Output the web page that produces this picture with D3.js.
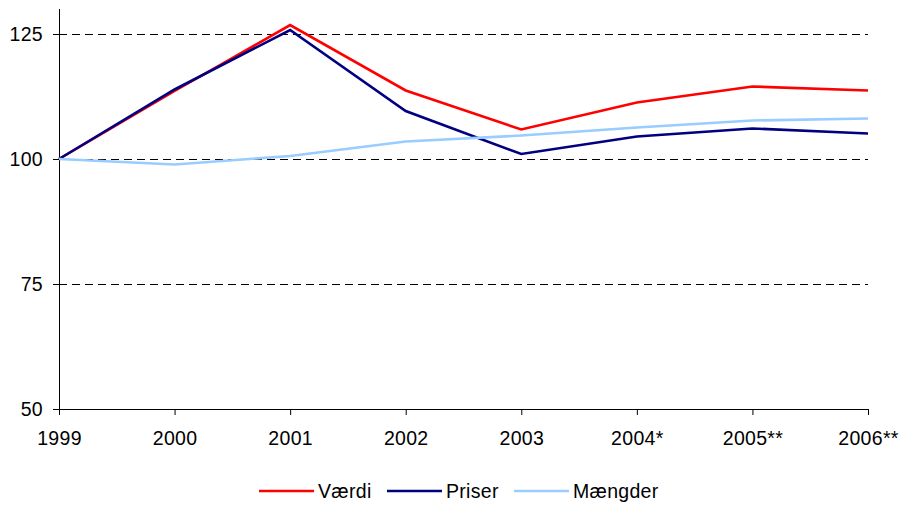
<!DOCTYPE html>
<html>
<head>
<meta charset="utf-8">
<script src="https://cdn.jsdelivr.net/npm/d3@7"></script>
<style>
  body { margin: 0; background: #fff; }
  svg { display: block; font-family: "Liberation Sans", Arial, sans-serif; }
  svg text { letter-spacing: 0.3px; }
</style>
</head>
<body>
<div id="chart"></div>
<script>
// Data
const years = ["1999", "2000", "2001", "2002", "2003", "2004*", "2005**", "2006**"];
const vaerdi = [100, 113.6, 126.8, 113.7, 105.9, 111.3, 114.5, 113.7];
const priser = [100, 113.9, 125.8, 109.6, 101.0, 104.5, 106.1, 105.1];
const maengder = [100, 98.9, 100.6, 103.5, 104.7, 106.3, 107.7, 108.1];
const yTicks = [50, 75, 100, 125];

const series = [
  { name: "Værdi", values: vaerdi, color: "#ff0000" },
  { name: "Priser", values: priser, color: "#000080" },
  { name: "Mængder", values: maengder, color: "#99ccff" }
];

const width = 899, height = 505;
const margin = { top: 9, right: 31, bottom: 96, left: 59 };
const fontSize = 19.5;

const x = d3.scalePoint()
  .domain(years)
  .range([margin.left, width - margin.right]);

const y = d3.scaleLinear()
  .domain([50, 130])
  .range([height - margin.bottom, margin.top]);

const svg = d3.select("#chart").append("svg")
  .attr("width", width)
  .attr("height", height);

// gridlines (dashed)
svg.append("g")
  .selectAll("line")
  .data(yTicks.filter(d => d > 50))
  .join("line")
  .attr("x1", margin.left)
  .attr("x2", width - margin.right)
  .attr("y1", d => y(d) + 0.5)
  .attr("y2", d => y(d) + 0.5)
  .attr("stroke", "#000")
  .attr("stroke-width", 1)
  .attr("stroke-dasharray", "8,5");

// y axis
const yAxis = svg.append("g")
  .attr("transform", `translate(${margin.left},0)`)
  .call(d3.axisLeft(y).tickValues(yTicks).tickSize(6).tickSizeOuter(0).tickPadding(10))
  .attr("font-size", fontSize)
  .attr("font-family", null);
yAxis.select(".domain").attr("d", `M0.5,${y(130)}V${y(50) + 0.5}`);
yAxis.selectAll("text").attr("fill", "#000");

// x axis
const xAxis = svg.append("g")
  .attr("transform", `translate(0,${y(50)})`)
  .call(d3.axisBottom(x).tickSize(6).tickSizeOuter(0).tickPadding(16))
  .attr("font-size", fontSize)
  .attr("font-family", null);
xAxis.selectAll("text").attr("fill", "#000");

// lines
const line = d3.line()
  .x((d, i) => x(years[i]))
  .y(d => y(d));

svg.append("g")
  .selectAll("path")
  .data(series)
  .join("path")
  .attr("fill", "none")
  .attr("stroke", d => d.color)
  .attr("stroke-width", 2.6)
  .attr("stroke-linejoin", "miter")
  .attr("d", d => line(d.values));

// legend
const legendX = [259, 387, 514];
const legend = svg.append("g")
  .attr("transform", `translate(0,491)`)
  .attr("font-size", fontSize);

const items = legend.selectAll("g")
  .data(series)
  .join("g")
  .attr("transform", (d, i) => `translate(${legendX[i]},0)`);

items.append("line")
  .attr("x1", 0)
  .attr("x2", 55)
  .attr("stroke", d => d.color)
  .attr("stroke-width", 2.6);

items.append("text")
  .attr("x", 59)
  .attr("dy", "0.36em")
  .text(d => d.name);
</script>
</body>
</html>
